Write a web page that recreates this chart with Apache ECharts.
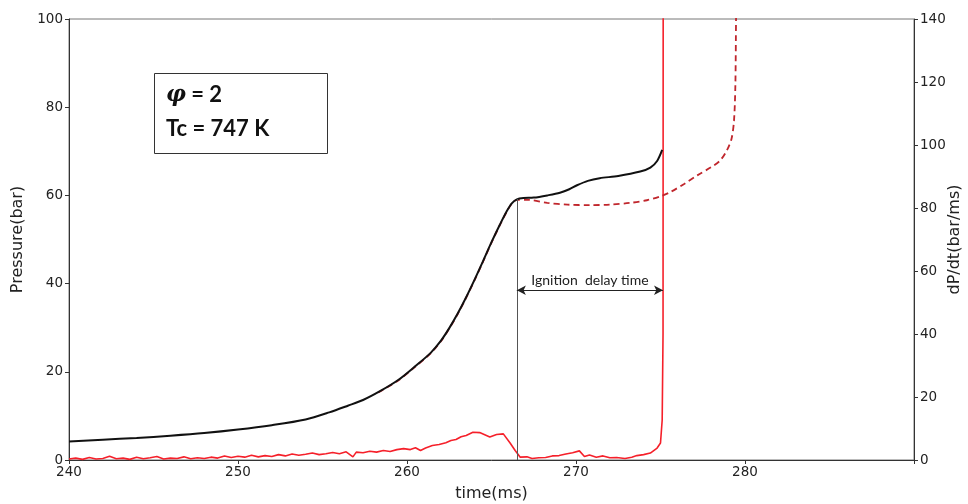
<!DOCTYPE html>
<html>
<head>
<meta charset="utf-8">
<script src="https://cdn.jsdelivr.net/npm/echarts@6/dist/echarts.min.js"></script>
<style>html,body{margin:0;padding:0;background:#fff}#c{width:968px;height:504px}</style>
</head>
<body>
<div id="c"></div>
<script>
// X axis ticks
var xTicks = [240, 250, 260, 270, 280];
// Measured pressure (bar)
var presT = [240, 242, 244, 246, 248, 250, 252, 254, 255.4, 256.5, 257.4, 258.4, 259.5, 260.5, 261.4, 262.0, 262.5, 263.0, 263.5, 264.0, 264.5, 265.0, 265.5, 265.9, 266.2, 266.5, 266.9, 267.5, 268.3, 269.05, 269.6, 270.06, 270.7, 271.4, 272.5, 273.8, 274.4, 274.8, 275.1];
var presP = [4.2, 4.6, 5.0, 5.5, 6.1, 6.9, 7.9, 9.2, 10.8, 12.3, 13.6, 15.6, 18.2, 21.3, 24.3, 27.0, 29.9, 33.2, 36.9, 40.9, 45.1, 49.4, 53.4, 56.4, 58.2, 59.1, 59.4, 59.5, 60.0, 60.6, 61.4, 62.3, 63.3, 63.9, 64.4, 65.4, 66.3, 67.8, 70.3];
// Simulated pressure (bar, dashed)
var simT = [258.3, 259.5, 260.5, 261.4, 262.0, 262.5, 263.0, 263.5, 264.0, 264.5, 265.0, 265.5, 265.9, 266.2, 266.5, 267.2, 268.3, 269.5, 270.8, 272.0, 273.2, 274.2, 275.0, 275.6, 276.4, 277.2, 278.0, 278.5, 278.9, 279.2, 279.35, 279.43, 279.47, 279.48];
var simP = [15.3, 18.1, 21.2, 24.2, 26.9, 29.8, 33.1, 36.8, 40.8, 45.0, 49.3, 53.3, 56.3, 58.1, 59.0, 59.0, 58.3, 57.9, 57.8, 57.9, 58.3, 58.9, 59.8, 60.8, 62.6, 64.6, 66.4, 67.8, 70.0, 72.8, 77, 85, 100, 102];
// Pressure rise rate dP/dt (bar/ms)
var dpT = [240.0, 240.4, 240.8, 241.2, 241.6, 242.0, 242.4, 242.8, 243.2, 243.6, 244.0, 244.4, 244.8, 245.2, 245.6, 246.0, 246.4, 246.8, 247.2, 247.6, 248.0, 248.4, 248.8, 249.2, 249.6, 250.0, 250.4, 250.8, 251.2, 251.6, 252.0, 252.4, 252.8, 253.2, 253.6, 254.0, 254.4, 254.8, 255.2, 255.6, 256.0, 256.4, 256.8, 257.0, 257.4, 257.8, 258.2, 258.6, 259.0, 259.4, 259.8, 260.2, 260.5, 260.8, 261.1, 261.5, 261.9, 262.3, 262.6, 262.9, 263.2, 263.5, 263.9, 264.3, 264.6, 264.9, 265.3, 265.7, 266.1, 266.4, 266.7, 267.1, 267.4, 267.8, 268.2, 268.6, 269.0, 269.4, 269.8, 270.2, 270.5, 270.8, 271.2, 271.6, 272.0, 272.4, 272.9, 273.3, 273.6, 274.0, 274.4, 274.8, 275.0, 275.1, 275.15, 275.18];
var dpV = [0.3, 0.6, 0.2, 0.8, 0.3, 0.5, 1.2, 0.4, 0.6, 0.2, 0.9, 0.4, 0.7, 1.1, 0.3, 0.6, 0.5, 1.0, 0.4, 0.7, 0.5, 0.9, 0.6, 1.3, 0.8, 1.2, 0.9, 1.5, 1.0, 1.4, 1.1, 1.7, 1.3, 1.9, 1.5, 1.8, 2.2, 1.7, 2.0, 2.4, 2.0, 2.6, 1.0, 2.5, 2.3, 2.8, 2.5, 3.0, 2.7, 3.3, 3.6, 3.3, 3.9, 3.0, 3.8, 4.6, 4.9, 5.5, 6.2, 6.5, 7.4, 7.8, 8.8, 8.7, 8.0, 7.3, 8.1, 8.3, 5.4, 3.0, 0.9, 1.0, 0.5, 0.7, 0.8, 1.3, 1.4, 1.9, 2.3, 2.9, 1.1, 1.6, 0.9, 1.3, 0.7, 0.8, 0.5, 0.9, 1.4, 1.7, 2.2, 3.8, 5.4, 12.7, 40, 400];
// Ignition delay annotation (time in ms, pressure in bar)
var idtStart = 266.5, idtEnd = 275.15, idtPeakP = 59.2, idtArrowP = 38.5;

function zip(a, b) { return a.map(function (v, i) { return [v, b[i]]; }); }

var chart = echarts.init(document.getElementById('c'), null, { renderer: 'canvas' });
var axisFont = 'DejaVu Sans';
chart.setOption({
  animation: false,
  grid: { left: 69, right: 54, top: 19, bottom: 44, outerBoundsMode: 'none', containLabel: false,
    show: true, borderColor: '#777', borderWidth: 1 },
  xAxis: {
    type: 'value', min: 240, max: 290, interval: 10,
    name: 'time(ms)', nameLocation: 'middle', nameGap: 26, nameMoveOverlap: false,
    nameTextStyle: { fontFamily: axisFont, fontSize: 16, color: '#222' },
    axisLine: { show: true, lineStyle: { color: '#333' } },
    axisTick: { show: true, inside: false, length: 4, lineStyle: { color: '#333' } },
    axisLabel: { fontFamily: axisFont, fontSize: 13.5, color: '#222', margin: 5,
      formatter: function (v) { return xTicks.indexOf(v) >= 0 ? String(v) : ''; } },
    splitLine: { show: false }
  },
  yAxis: [{
    type: 'value', min: 0, max: 100, interval: 20, position: 'left',
    name: 'Pressure(bar)', nameLocation: 'middle', nameGap: 43, nameRotate: 90, nameMoveOverlap: false,
    nameTextStyle: { fontFamily: axisFont, fontSize: 16, color: '#222' },
    axisLine: { show: true, lineStyle: { color: '#333' } },
    axisTick: { show: true, length: 4, lineStyle: { color: '#333' } },
    axisLabel: { fontFamily: axisFont, fontSize: 13.5, color: '#222', margin: 6 },
    splitLine: { show: false }
  }, {
    type: 'value', min: 0, max: 140, interval: 20, position: 'right',
    name: 'dP/dt(bar/ms)', nameLocation: 'middle', nameGap: 33, nameRotate: 90, nameMoveOverlap: false,
    nameTextStyle: { fontFamily: axisFont, fontSize: 16, color: '#222' },
    axisLine: { show: true, lineStyle: { color: '#333' } },
    axisTick: { show: true, length: 4, lineStyle: { color: '#333' } },
    axisLabel: { fontFamily: axisFont, fontSize: 13.5, color: '#222', margin: 6 },
    splitLine: { show: false }
  }],
  series: [{
    name: 'dPdt', type: 'line', yAxisIndex: 1, data: zip(dpT, dpV),
    showSymbol: false, clip: true, lineStyle: { color: '#f5202a', width: 1.6 }, z: 2
  }, {
    name: 'sim', type: 'line', yAxisIndex: 0, data: zip(simT, simP),
    showSymbol: false, smooth: 0.3, clip: true,
    lineStyle: { color: '#c0262c', width: 1.8, type: [6, 4] }, z: 3
  }, {
    name: 'exp', type: 'line', yAxisIndex: 0, data: zip(presT, presP),
    showSymbol: false, smooth: 0.3, clip: true,
    lineStyle: { color: '#111', width: 2 }, z: 4,
    markLine: {
      silent: true, animation: false,
      data: [
        [{ coord: [idtStart, 0], symbol: 'none', lineStyle: { color: '#555', width: 1, type: 'solid' }, label: { show: false } },
         { coord: [idtStart, idtPeakP], symbol: 'none' }],
        [{ coord: [idtStart, idtArrowP], symbol: 'arrow', symbolSize: [7, 9],
           lineStyle: { color: '#222', width: 1, type: 'solid' },
           label: { show: true, position: 'insideMiddleTop', formatter: 'Ignition  delay time', fontFamily: 'Lato', fontSize: 14, color: '#222', distance: 3 } },
         { coord: [idtEnd, idtArrowP], symbol: 'arrow', symbolSize: [7, 9] }]
      ]
    }
  }],
  graphic: [{
    type: 'rect', left: 154, top: 73, shape: { width: 173, height: 80 },
    style: { fill: '#fff', stroke: '#333', lineWidth: 1 }, z: 10
  }, {
    type: 'text', left: 166, top: 84, z: 11,
    style: {
      text: '{i|φ}{b| = 2}', fill: '#111',
      rich: {
        i: { fontFamily: 'DejaVu Serif', fontStyle: 'italic', fontWeight: 'bold', fontSize: 22, fill: '#111' },
        b: { fontFamily: 'Lato', fontWeight: 'bold', fontSize: 22, fill: '#111' }
      }
    }
  }, {
    type: 'text', left: 166, top: 118, z: 11,
    style: { text: 'Tc = 747 K', fontFamily: 'Lato', fontWeight: 'bold', fontSize: 22, fill: '#111' }
  }]
});
</script>
</body>
</html>
